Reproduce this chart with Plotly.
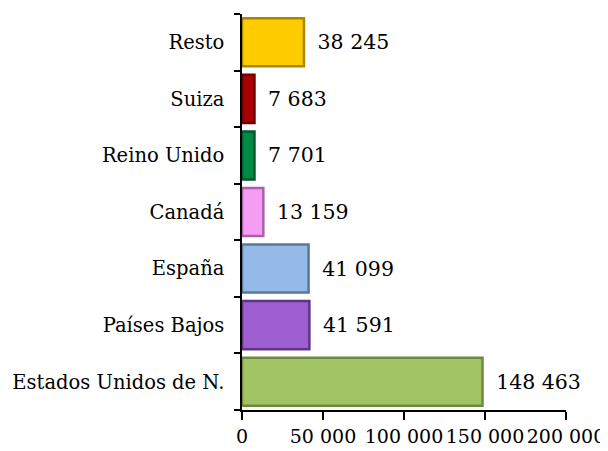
import plotly.graph_objects as go

categories = ["Estados Unidos de N.", "Países Bajos", "España", "Canadá",
              "Reino Unido", "Suiza", "Resto"]
values = [148463, 41591, 41099, 13159, 7701, 7683, 38245]
fill_colors = ["#A2C465", "#9D5FD0", "#95B9E8", "#F59CF3", "#008A45", "#A80000", "#FFCC00"]
edge_colors = ["#6E8A3E", "#5E3585", "#5A7898", "#A860A8", "#005A2C", "#6A0000", "#A88600"]
tick_vals = [0, 50000, 100000, 150000, 200000]

FONT = "DejaVu Serif"

fig = go.Figure()
fig.add_trace(go.Bar(
    y=categories, x=values, orientation="h",
    marker=dict(color=fill_colors, line=dict(color=edge_colors, width=2.5)),
    text=values,
    texttemplate="\u00a0\u2009%{x:,}",
    textposition="outside",
    constraintext="none",
    cliponaxis=False,
    textfont=dict(family=FONT, size=20.5, color="black"),
    hoverinfo="skip",
))

fig.update_layout(
    width=600, height=443,
    margin=dict(l=234, r=42, t=6, b=41, autoexpand=False),
    paper_bgcolor="white", plot_bgcolor="white",
    separators=". ",
    bargap=0.15,
    showlegend=False,
    font=dict(family=FONT, color="black"),
)
fig.update_xaxes(
    range=[0, 200000], tickvals=tick_vals, tickformat=",d",
    showline=True, linecolor="black", linewidth=1.5,
    ticks="outside", ticklen=8, tickcolor="black", tickwidth=1.5,
    showgrid=False, zeroline=False, automargin=False,
    tickfont=dict(family=FONT, size=19, color="black"),
)
fig.update_yaxes(
    type="category", categoryorder="array", categoryarray=categories,
    showline=True, linecolor="black", linewidth=1.5,
    ticks="outside", ticklen=6, tickcolor="black", tickwidth=1.5,
    tickson="boundaries", ticklabelstandoff=12,
    showgrid=False, zeroline=False, automargin=False,
    tickfont=dict(family=FONT, size=19.5, color="black"),
)

fig.write_html("out.html")
